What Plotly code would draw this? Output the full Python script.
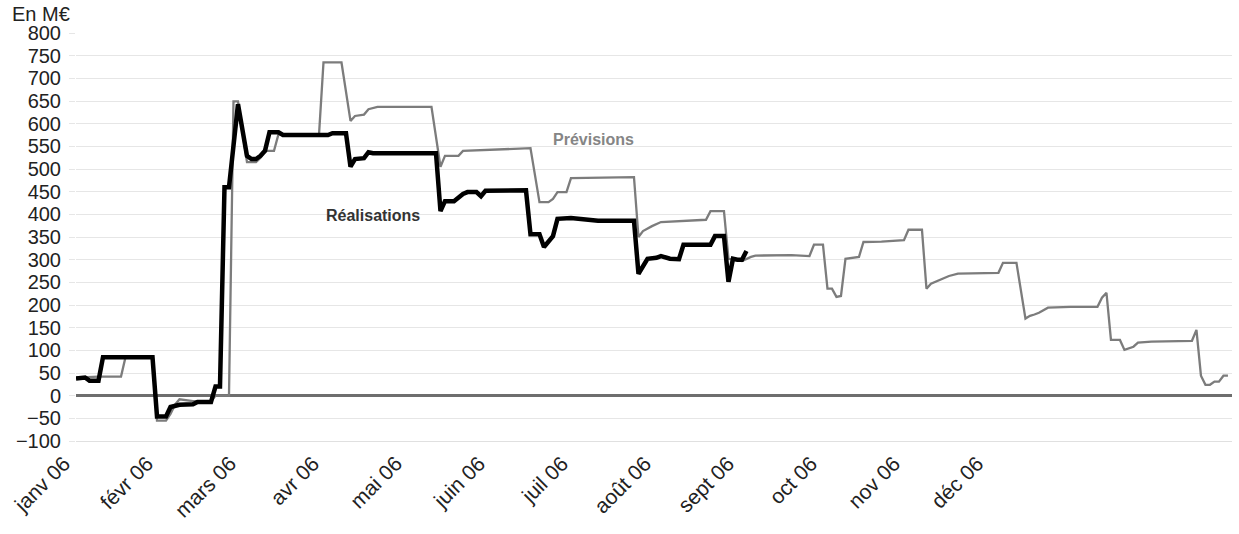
import plotly.graph_objects as go

# Business-day index (x) and cash position in M€ (y) for each series
prev_jour = [0, 5, 10, 11, 17, 18, 20, 21, 22, 23, 26, 30, 31, 34, 35, 36, 38, 40, 41, 42, 44, 45,
             54, 55, 59, 61, 62, 64, 65, 67, 79, 81, 82, 85, 86, 94, 100, 101, 103, 105, 106, 107,
             109, 110, 124, 125, 126, 128, 130, 134, 140, 141, 144, 145, 148, 150, 151, 159, 163,
             164, 166, 167, 168, 169, 170, 171, 174, 175, 179, 184, 185, 188, 189, 190, 192, 194,
             196, 205, 206, 209, 211, 212, 213, 214, 216, 221, 227, 228, 229, 230, 232, 233, 235,
             236, 239, 248, 249, 250, 251, 252, 253, 254, 255, 256]
prev_val = [40, 42, 42, 85, 85, -55, -55, -40, -20, -8, -12, -12, 0, 0, 649, 649, 515, 515, 525,
            540, 540, 577, 575, 735, 735, 606, 617, 620, 632, 637, 637, 505, 529, 529, 540, 543,
            544, 546, 427, 427, 434, 449, 449, 480, 482, 350, 363, 374, 383, 385, 388, 407, 407,
            302, 297, 306, 309, 310, 308, 333, 333, 236, 236, 218, 220, 302, 306, 339, 340, 343,
            366, 366, 236, 247, 255, 264, 269, 271, 293, 293, 170, 176, 179, 183, 194, 196, 196,
            216, 227, 123, 123, 101, 108, 117, 119, 121, 145, 44, 24, 24, 31, 31, 44, 44]

real_jour = [0, 1, 2, 3, 5, 6, 17, 18, 20, 21, 23, 26, 27, 30, 31, 32, 33, 34, 36, 38, 39, 40, 41,
             42, 43, 45, 46, 56, 57, 60, 61, 62, 64, 65, 66, 80, 81, 82, 84, 86, 87, 89, 90, 91,
             100, 101, 103, 104, 106, 107, 110, 116, 124, 125, 127, 129, 130, 132, 134, 135, 141,
             142, 144, 145, 146, 147, 148, 149]
real_val = [38, 40, 40, 33, 33, 85, 85, -46, -46, -25, -20, -19, -14, -14, 20, 20, 460, 460, 643,
            529, 522, 522, 529, 540, 581, 581, 575, 575, 579, 579, 505, 522, 524, 537, 535, 535,
            407, 429, 429, 445, 449, 449, 440, 452, 453, 356, 356, 328, 352, 390, 392, 386, 386,
            269, 302, 304, 308, 302, 301, 333, 333, 352, 352, 251, 302, 300, 300, 319]

mois_lbl = ["janv 06", "févr 06", "mars 06", "avr 06", "mai 06", "juin 06",
            "juil 06", "août 06", "sept 06", "oct 06", "nov 06", "déc 06"]
pas_etiquette = 18.45  # category interval between month labels
mois_pos = [round(k * pas_etiquette, 2) for k in range(len(mois_lbl))]
y_ticks = list(range(-100, 801, 50))

FONT = "Liberation Sans, Arial, sans-serif"

fig = go.Figure()
fig.add_trace(go.Scatter(x=prev_jour, y=prev_val, mode="lines", name="Prévisions",
                         line=dict(color="#7c7c7c", width=2.3)))
fig.add_trace(go.Scatter(x=real_jour, y=real_val, mode="lines", name="Réalisations",
                         line=dict(color="#000000", width=4.5)))

fig.add_annotation(x=115, y=565, text="<b>Prévisions</b>", showarrow=False,
                   font=dict(family=FONT, size=16, color="#858585"))
fig.add_annotation(x=66, y=398, text="<b>Réalisations</b>", showarrow=False,
                   font=dict(family=FONT, size=16, color="#333333"))
fig.add_annotation(xref="paper", yref="paper", x=-0.057, y=1.078, xanchor="left", yanchor="top",
                   text="En M€", showarrow=False,
                   font=dict(family=FONT, size=20, color="#222222"))

fig.update_layout(
    width=1239, height=534,
    margin=dict(l=76, r=7, t=33, b=93),
    paper_bgcolor="white", plot_bgcolor="white",
    showlegend=False,
    font=dict(family=FONT, color="#222222"),
    xaxis=dict(range=[0, 256.9], tickmode="array", tickvals=mois_pos, ticktext=mois_lbl,
               tickangle=-45, tickfont=dict(size=21), showgrid=False, zeroline=False,
               showline=True, linecolor="#e0e0e0", linewidth=1, ticks="",
               ticklabelshift=-12, ticklabelstandoff=1),
    yaxis=dict(range=[-100, 800], tickmode="array", tickvals=y_ticks,
               tickfont=dict(size=20), showgrid=True, gridcolor="#e6e6e6", gridwidth=1,
               ticks="outside", ticklen=6, tickcolor="#e6e6e6", ticklabelstandoff=4,
               zeroline=True, zerolinecolor="#6e6e6e", zerolinewidth=3,
               showline=False),
)

fig.write_html("out.html")
